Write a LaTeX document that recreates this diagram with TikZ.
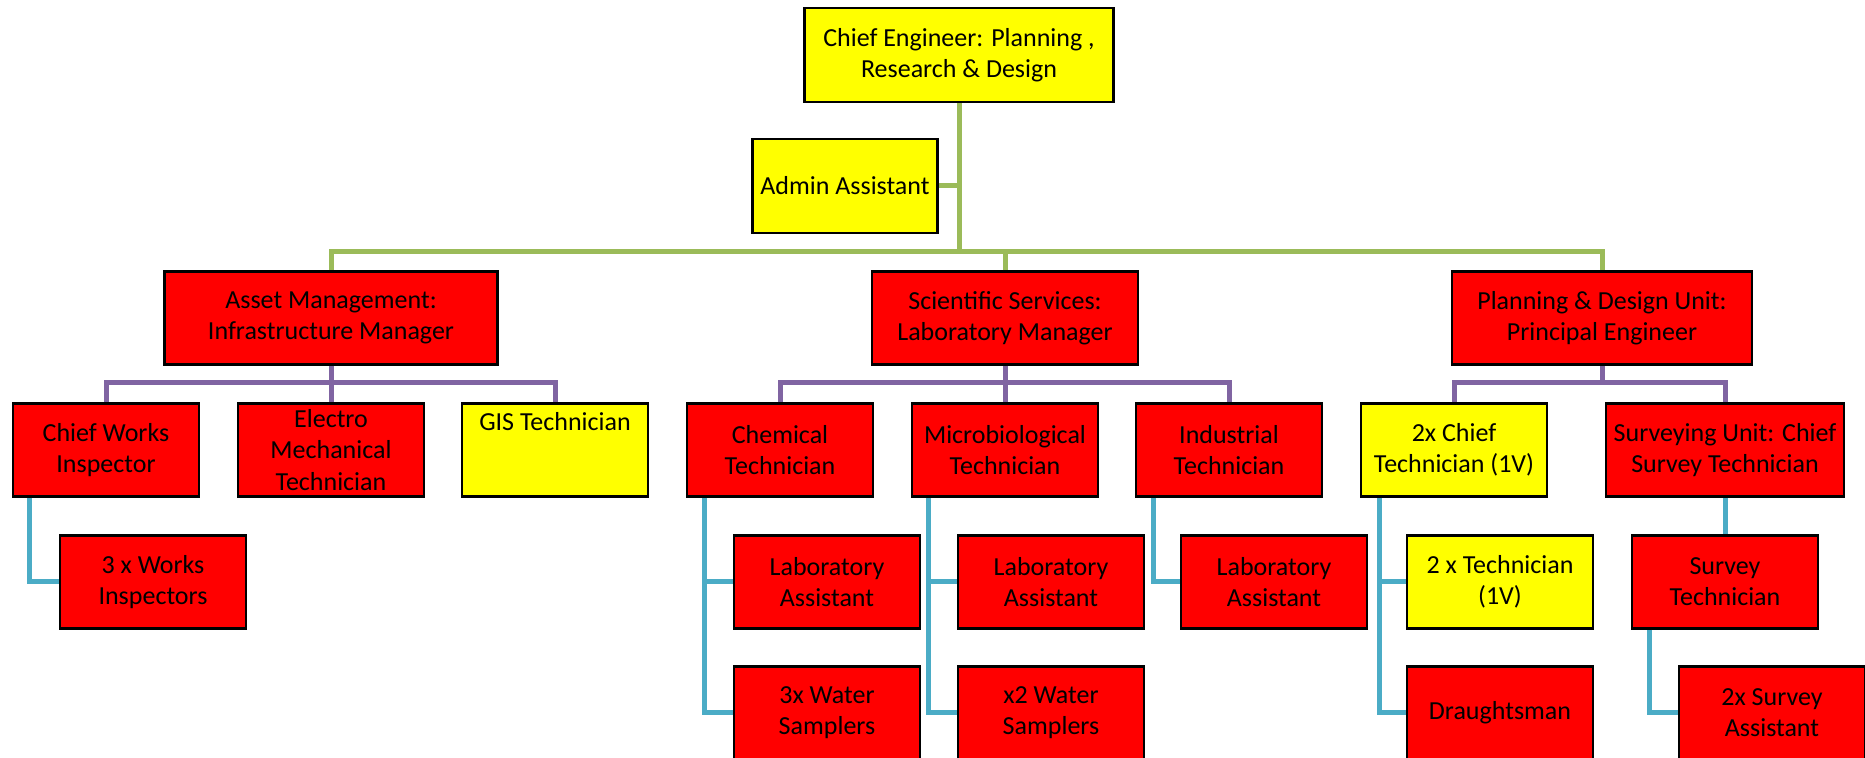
\documentclass[tikz,border=0pt]{standalone}
\usepackage{fontspec}
\setmainfont{Carlito}
\usetikzlibrary{calc}
\definecolor{cyel}{HTML}{FFFF00}
\definecolor{cred}{HTML}{FF0000}
\definecolor{cgreen}{HTML}{9BBB59}
\definecolor{cpurple}{HTML}{8064A2}
\definecolor{cblue}{HTML}{4BACC6}
\begin{document}
\begin{tikzpicture}[x=0.5pt,y=-0.5pt,
  box/.style={draw=black,line width=1.4pt,align=center,inner sep=1pt,
    font=\fontsize{13}{15.6}\selectfont,minimum width=93pt,minimum height=46.5pt},
  yel/.style={box,fill=cyel},
  red/.style={box,fill=cred},
  gline/.style={draw=cgreen,line width=2.5pt},
  pline/.style={draw=cpurple,line width=2.5pt},
  bline/.style={draw=cblue,line width=2.5pt}]
\useasboundingbox (0,0) rectangle (1865,758);
% level 1
\node[yel,minimum width=154.5pt,minimum height=47pt] (top) at (959,55) {Chief Engineer: Planning ,\\Research \& Design};
\node[yel,minimum width=92.5pt,minimum height=47pt] (admin) at (845,186) {Admin Assistant};
% level 2
\node[red,minimum width=166.5pt] (asset) at (331,318) {Asset Management:\\Infrastructure Manager};
\node[red,minimum width=133pt] (sci) at (1005,318) {Scientific Services:\\Laboratory Manager};
\node[red,minimum width=150pt] (plan) at (1602,318) {Planning \& Design Unit:\\Principal Engineer};
% level 3
\node[red] (cwi) at (106,450) {Chief Works\\Inspector};
\node[red] (elec) at (331,450) {Electro\\Mechanical\\Technician};
\node[yel,text depth=29pt] (gis) at (555,450) {GIS Technician};
\node[red] (chem) at (780,450) {Chemical\\Technician};
\node[red] (micro) at (1005,450) {Microbiological\\Technician};
\node[red] (ind) at (1229,450) {Industrial\\Technician};
\node[yel] (cht) at (1454,450) {2x Chief\\Technician (1V)};
\node[red,minimum width=119pt] (surv) at (1725,450) {Surveying Unit: Chief\\Survey Technician};
% level 4
\node[red] (works3) at (153,582) {3 x Works\\Inspectors};
\node[red] (lab1) at (827,582) {Laboratory\\Assistant};
\node[red] (lab2) at (1051,582) {Laboratory\\Assistant};
\node[red] (lab3) at (1274,582) {Laboratory\\Assistant};
\node[yel] (tech2) at (1500,582) {2 x Technician\\(1V)};
\node[red] (stech) at (1725,582) {Survey\\Technician};
% level 5
\node[red] (water3) at (827,713) {3x Water\\Samplers};
\node[red] (water2) at (1051,713) {x2 Water\\Samplers};
\node[red] (draught) at (1500,713) {Draughtsman};
\node[red] (sassist) at (1772,713) {2x Survey\\Assistant};
% green connectors
\coordinate (gbus) at (959,252);
\draw[gline] (top.south) -- (gbus);
\draw[gline] (admin.east) -- (admin.east -| top.south);
\draw[gline] (asset.north) |- (gbus);
\draw[gline] (plan.north) |- (gbus);
\draw[gline] (sci.north) -- (sci.north |- gbus);
% purple connectors
\coordinate (abus) at (331,383);
\coordinate (sbus) at (1005,383);
\coordinate (pbus) at (1602,383);
\draw[pline] (asset.south) -- (elec.north);
\draw[pline] (cwi.north) |- (abus) -| (gis.north);
\draw[pline] (sci.south) -- (micro.north);
\draw[pline] (chem.north) |- (sbus) -| (ind.north);
\draw[pline] (plan.south) -- (pbus);
\draw[pline] (cht.north) |- (pbus) -| (surv.north);
% blue connectors
\coordinate (cwid) at ($(cwi.south west)+(18,0)$);
\coordinate (chemd) at ($(chem.south west)+(19,0)$);
\coordinate (microd) at ($(micro.south west)+(18,0)$);
\coordinate (indd) at ($(ind.south west)+(19,0)$);
\coordinate (chtd) at ($(cht.south west)+(20,0)$);
\coordinate (stechd) at ($(stech.south west)+(19,0)$);
\draw[bline] (cwid) |- (works3.west);
\draw[bline] (chemd) |- (water3.west);
\draw[bline] (lab1.west) -- (lab1.west -| chemd);
\draw[bline] (microd) |- (water2.west);
\draw[bline] (lab2.west) -- (lab2.west -| microd);
\draw[bline] (indd) |- (lab3.west);
\draw[bline] (chtd) |- (draught.west);
\draw[bline] (tech2.west) -- (tech2.west -| chtd);
\draw[bline] (surv.south) -- (stech.north);
\draw[bline] (stechd) |- (sassist.west);
\end{tikzpicture}
\end{document}
